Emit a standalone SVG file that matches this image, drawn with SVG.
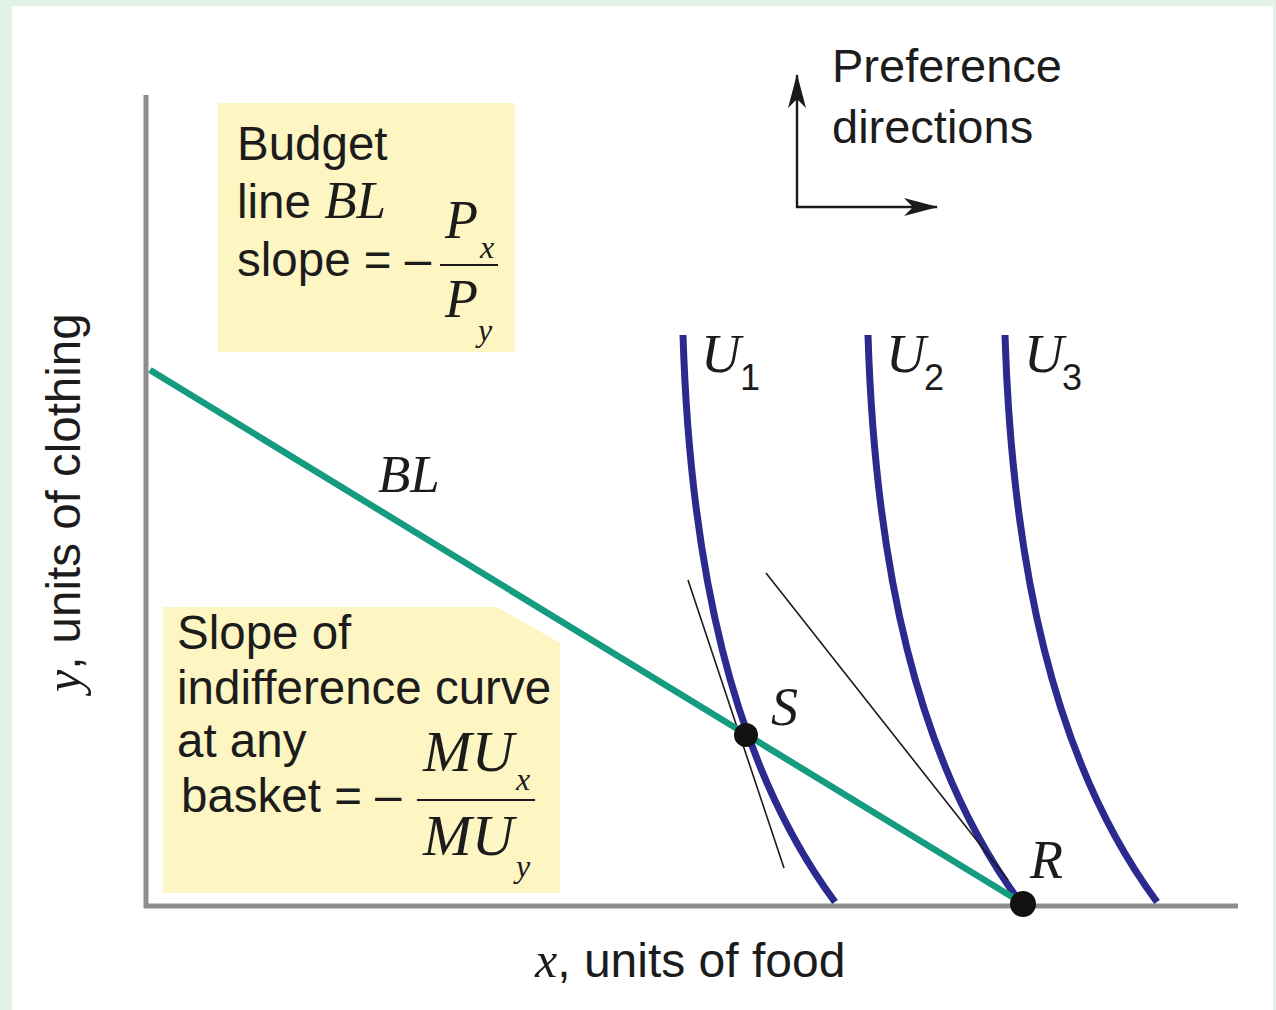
<svg xmlns="http://www.w3.org/2000/svg" width="1276" height="1010" viewBox="0 0 1276 1010">
<defs>
<marker id="ah" viewBox="0 0 34 20" refX="33" refY="10" markerWidth="34" markerHeight="20" markerUnits="userSpaceOnUse" orient="auto">
<path d="M0,1 L34,10 L0,19 L9,10 Z" fill="#1a1a1a"/>
</marker>
</defs>
<style>
.sans{font-family:"Liberation Sans",Arial,sans-serif;fill:#1c1c1c}
.ser{font-family:"Liberation Serif","Times New Roman",serif;font-style:italic;fill:#1c1c1c}
.box{fill:#fdf5c2}
.axis{stroke:#8e8e8e;stroke-width:5;fill:none}
.ic{stroke:#2b2a8e;stroke-width:7;fill:none}
.thin{stroke:#1a1a1a;stroke-width:1.6;fill:none}
.frac{stroke:#1c1c1c;stroke-width:2}
</style>
<rect x="0" y="0" width="1276" height="1010" fill="#e2f1e8"/>
<rect x="12" y="6" width="1261" height="1004" fill="#ffffff"/>

<g id="budget-box">
<rect class="box" x="218" y="103" width="297" height="249"/>
<text class="sans" font-size="47.5" x="237" y="160">Budget</text>
<text class="sans" font-size="47.5" x="237" y="218">line <tspan class="ser" font-size="53">BL</tspan></text>
<text class="sans" font-size="47.5" x="237" y="276">slope = –</text>
<text class="ser" font-size="54" x="445" y="238">P</text>
<text class="ser" font-size="32" x="480" y="258">x</text>
<line class="frac" x1="440" y1="265" x2="498" y2="265"/>
<text class="ser" font-size="54" x="445" y="317">P</text>
<text class="ser" font-size="32" x="478" y="341">y</text>
</g>

<g id="slope-box">
<path class="box" d="M163,607 L497,607 L560,643 L560,893 L163,893 Z"/>
<text class="sans" font-size="47.5" x="177" y="649">Slope of</text>
<text class="sans" font-size="47.5" x="177" y="704">indifference curve</text>
<text class="sans" font-size="47.5" x="177" y="757">at any</text>
<text class="sans" font-size="47.5" x="181" y="812">basket = –</text>
<text class="ser" font-size="57" x="423" y="771" textLength="91" lengthAdjust="spacingAndGlyphs">MU</text>
<text class="ser" font-size="32" x="516" y="790">x</text>
<line class="frac" x1="417" y1="800" x2="535" y2="800"/>
<text class="ser" font-size="57" x="423" y="855" textLength="91" lengthAdjust="spacingAndGlyphs">MU</text>
<text class="ser" font-size="32" x="516" y="877">y</text>
</g>

<g id="axes">
<line class="axis" x1="146" y1="95" x2="146" y2="908"/>
<line class="axis" x1="144" y1="906" x2="1238" y2="906"/>
<text class="sans" font-size="48" x="535" y="977"><tspan class="ser" font-size="50">x</tspan>, units of food</text>
<text class="sans" font-size="47.5" transform="translate(80,692) rotate(-90)"><tspan class="ser" font-size="50">y</tspan>, units of clothing</text>
</g>

<g id="preference">
<text class="sans" font-size="47" x="832" y="82">Preference</text>
<text class="sans" font-size="47" x="832" y="143">directions</text>
</g>

<g id="connectors">
<line stroke="#1a1a1a" stroke-width="2.4" x1="797" y1="208" x2="797" y2="75" marker-end="url(#ah)"/>
<line stroke="#1a1a1a" stroke-width="2.4" x1="796" y1="207" x2="937" y2="207" marker-end="url(#ah)"/>
</g>

<g id="curves">
<path id="U1" class="ic" d="M683,335 C690,560 730,760 835,902"/>
<path id="U2" class="ic" d="M868,335 C875,560 915,760 1020,902"/>
<path id="U3" class="ic" d="M1005,335 C1012,560 1052,760 1157,902"/>
<line class="thin" x1="688" y1="580" x2="784" y2="868"/>
<line class="thin" x1="766" y1="573" x2="1008" y2="880"/>
<line id="BL" stroke="#159c80" stroke-width="6.5" x1="150" y1="370" x2="1022" y2="903"/>
</g>

<g id="labels">
<text class="ser" font-size="55" x="701" y="372">U</text>
<text class="sans" font-size="36" x="740" y="390">1</text>
<text class="ser" font-size="55" x="886" y="372">U</text>
<text class="sans" font-size="36" x="924" y="390">2</text>
<text class="ser" font-size="55" x="1024" y="372">U</text>
<text class="sans" font-size="36" x="1062" y="390">3</text>
<text class="ser" font-size="53" x="378" y="492">BL</text>
<text class="ser" font-size="54" x="771" y="725">S</text>
<text class="ser" font-size="54" x="1030" y="878">R</text>
</g>

<g id="point-S"><circle cx="746" cy="735" r="12" fill="#111"/></g>
<g id="point-R"><circle cx="1023" cy="904" r="13" fill="#111"/></g>
</svg>
